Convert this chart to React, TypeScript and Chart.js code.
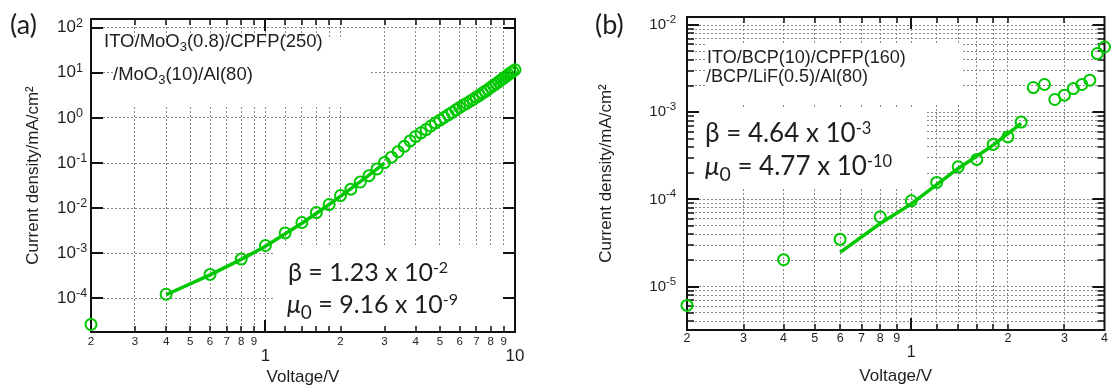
import React, { useEffect, useRef } from 'react';
import { Chart, registerables } from 'chart.js';

Chart.register(...registerables);

const GREEN = '#00c800';
const INK = '#1e1e1e';
const GRID = '#8a8a8a';
const ARIAL = '"Liberation Sans", Arial, sans-serif';
const CAL = 'Lato, "Open Sans", sans-serif';

// ---------------- panel (a) data ----------------
const voltageA = [
  0.2, 0.4, 0.6, 0.8, 1.0, 1.2, 1.4, 1.6, 1.8, 2.0,
  2.2, 2.4, 2.6, 2.8, 3.0, 3.2, 3.4, 3.6, 3.8, 4.0,
  4.2, 4.4, 4.6, 4.8, 5.0, 5.2, 5.4, 5.6, 5.8, 6.0,
  6.2, 6.4, 6.6, 6.8, 7.0, 7.2, 7.4, 7.6, 7.8, 8.0,
  8.2, 8.4, 8.6, 8.8, 9.0, 9.2, 9.4, 9.6, 9.8, 10.0,
];
const currentA = [
  2.63e-5, 1.23e-4, 3.39e-4, 7.41e-4, 1.48e-3, 2.82e-3, 4.79e-3, 7.94e-3, 1.2e-2, 1.9e-2,
  2.63e-2, 3.8e-2, 5.25e-2, 7.41e-2, 0.102, 0.135, 0.178, 0.234, 0.309, 0.389,
  0.468, 0.55, 0.661, 0.776, 0.891, 1.02, 1.17, 1.32, 1.51, 1.7,
  1.91, 2.09, 2.34, 2.57, 2.88, 3.16, 3.55, 3.89, 4.27, 4.79,
  5.25, 5.75, 6.31, 6.92, 7.59, 8.32, 9.12, 10.0, 10.7, 11.7,
];
const fitVoltageA = [0.4, 0.6, 0.8, 1.0, 1.4, 1.8, 2.2, 2.6, 3.0];
const fitCurrentA = [1.2e-4, 3.3e-4, 7.3e-4, 1.42e-3, 4.6e-3, 1.2e-2, 2.7e-2, 5.4e-2, 0.1];
const xTicksA = [0.2, 0.3, 0.4, 0.5, 0.6, 0.7, 0.8, 0.9, 1, 1.2, 1.4, 1.6, 1.8, 2, 3, 4, 5, 6, 7, 8, 9, 10];
const yTicksA = [1e-4, 1e-3, 1e-2, 1e-1, 1, 10, 100];

// ---------------- panel (b) data ----------------
const voltageB = [0.2, 0.4, 0.6, 0.8, 1.0, 1.2, 1.4, 1.6, 1.8, 2.0, 2.2, 2.4, 2.6, 2.8, 3.0, 3.2, 3.4, 3.6, 3.8, 4.0];
const currentB = [
  6.1e-6, 2.04e-5, 3.49e-5, 6.34e-5, 9.66e-5, 1.57e-4, 2.37e-4, 2.88e-4, 4.28e-4, 5.22e-4,
  7.71e-4, 1.92e-3, 2.08e-3, 1.4e-3, 1.57e-3, 1.87e-3, 2.08e-3, 2.33e-3, 4.71e-3, 5.6e-3,
];
const fitVoltageB = [0.6, 0.8, 1.0, 1.4, 1.8, 2.2];
const fitCurrentB = [2.48e-5, 5.3e-5, 8.9e-5, 2.27e-4, 4.2e-4, 7.45e-4];
const xTicksB = [0.2, 0.3, 0.4, 0.5, 0.6, 0.7, 0.8, 0.9, 1, 1.2, 1.4, 1.6, 1.8, 2, 3, 4];
const yTicksB = [
  4e-6, 5e-6, 6e-6, 7e-6, 8e-6, 9e-6,
  1e-5, 2e-5, 3e-5, 4e-5, 5e-5, 6e-5, 7e-5, 8e-5, 9e-5,
  1e-4, 2e-4, 3e-4, 4e-4, 5e-4, 6e-4, 7e-4, 8e-4, 9e-4,
  1e-3, 2e-3, 3e-3, 4e-3, 5e-3, 6e-3, 7e-3, 8e-3, 9e-3,
  1e-2,
];

// ---------------- helpers ----------------
const isDecade = (v: number) => {
  const l = Math.log10(v);
  return Math.abs(l - Math.round(l)) < 1e-6;
};
const exponentOf = (v: number) => String(Math.round(Math.log10(v)));
const mantissa = (v: number) => Math.round(v / Math.pow(10, Math.floor(Math.log10(v) + 1e-9)));

type Run = { t: string; f: string; dy?: number };
type TLine = { x: number; y: number; runs: Run[] };
type Box = { x: number; y: number; w: number; h: number };

type PanelCfg = {
  offsetX: number;
  area: { left: number; right: number; top: number; bottom: number };
  xMin: number; xMax: number; yMin: number; yMax: number;
  vx: number[]; vy: number[]; fx: number[]; fy: number[];
  xTicks: number[]; yTicks: number[];
  majorX: number[];
  xMinorSize: number; xMajorSize: number; xMajorLH: number; xPad: number;
  ySize: number; yPad: number; expSize: number; expDy: number;
  yMinorTicks: boolean;
  yTitlePad: number; xTitlePad: number;
  boxes: Box[];
  lines: TLine[];
};

const W = 556;
const H = 387;

function buildConfig(p: PanelCfg): any {
  const ox = p.offsetX;
  const decor = {
    id: 'decor',
    beforeDatasetsDraw(chart: any) {
      const ctx = chart.ctx as CanvasRenderingContext2D;
      const { left, right, top, bottom } = chart.chartArea;
      const xs = chart.scales.x;
      const ys = chart.scales.y;
      ctx.save();
      ctx.fillStyle = '#ffffff';
      p.boxes.forEach((b) => ctx.fillRect(b.x - ox, b.y, b.w, b.h));
      ctx.strokeStyle = '#111';
      ctx.lineCap = 'butt';
      p.xTicks.forEach((v) => {
        const px = Math.round(xs.getPixelForValue(v));
        if (px <= left + 1 || px >= right - 1) return;
        const major = p.majorX.includes(v);
        const len = major ? 12 : 6;
        ctx.lineWidth = major ? 2 : 1.5;
        ctx.beginPath();
        ctx.moveTo(px, bottom);
        ctx.lineTo(px, bottom - len);
        ctx.moveTo(px, top);
        ctx.lineTo(px, top + len);
        ctx.stroke();
      });
      p.yTicks.forEach((v) => {
        const py = Math.round(ys.getPixelForValue(v));
        if (py <= top + 1 || py >= bottom - 1) return;
        const major = isDecade(v);
        if (!major && !p.yMinorTicks) return;
        const len = major ? 12 : 7;
        ctx.lineWidth = major ? 2 : 1.5;
        ctx.beginPath();
        ctx.moveTo(left, py);
        ctx.lineTo(left + len, py);
        ctx.moveTo(right, py);
        ctx.lineTo(right - len, py);
        ctx.stroke();
      });
      ctx.lineWidth = 2;
      ctx.strokeRect(left, top, right - left, bottom - top);
      ctx.restore();
    },
    afterDatasetsDraw(chart: any) {
      const ctx = chart.ctx as CanvasRenderingContext2D;
      const ys = chart.scales.y;
      ctx.save();
      ctx.fillStyle = INK;
      ctx.textAlign = 'left';
      ctx.textBaseline = 'alphabetic';
      // exponents of the y tick labels (superscripts after "10")
      ctx.font = `${p.expSize}px ${ARIAL}`;
      const ex = p.area.left - p.yPad;
      p.yTicks.forEach((v) => {
        if (!isDecade(v)) return;
        const py = ys.getPixelForValue(v);
        ctx.fillText(exponentOf(v), ex, py + p.expDy);
      });
      p.lines.forEach((l) => {
        let x = l.x - ox;
        l.runs.forEach((r) => {
          ctx.font = r.f;
          ctx.fillText(r.t, x, l.y + (r.dy || 0));
          x += ctx.measureText(r.t).width;
        });
      });
      ctx.restore();
    },
  };

  const pts = p.vx.map((x, i) => ({ x, y: p.vy[i] }));
  const fit = p.fx.map((x, i) => ({ x, y: p.fy[i] }));

  return {
    type: 'scatter',
    data: {
      datasets: [
        {
          data: pts,
          showLine: false,
          pointStyle: 'circle',
          pointRadius: 5.5,
          pointBorderWidth: 2,
          borderWidth: 2,
          borderColor: GREEN,
          pointBorderColor: GREEN,
          backgroundColor: 'rgba(0,0,0,0)',
          pointBackgroundColor: 'rgba(0,0,0,0)',
          clip: false,
        },
        {
          data: fit,
          showLine: true,
          pointRadius: 0,
          borderColor: GREEN,
          borderWidth: 3.5,
          tension: 0,
          fill: false,
        },
      ],
    },
    options: {
      responsive: false,
      animation: false,
      devicePixelRatio: 1,
      events: [],
      layout: { padding: { left: 0, top: p.area.top, right: W - p.area.right, bottom: 0 } },
      plugins: { legend: { display: false }, tooltip: { enabled: false }, title: { display: false } },
      scales: {
        x: {
          type: 'logarithmic',
          position: 'bottom',
          min: p.xMin,
          max: p.xMax,
          afterBuildTicks: (s: any) => {
            s.ticks = p.xTicks.map((v) => ({ value: v }));
          },
          afterFit: (s: any) => {
            s.height = H - p.area.bottom;
            s.paddingLeft = 0;
            s.paddingRight = 0;
          },
          ticks: {
            autoSkip: false,
            maxRotation: 0,
            minRotation: 0,
            padding: p.xPad,
            color: INK,
            callback: (value: any) => {
              const v = Number(value);
              if (p.majorX.includes(v)) return ['', String(v)];
              if (v > 1 && v < 2) return '';
              return String(mantissa(v));
            },
            font: (c: any) => {
              const v = c && c.tick ? c.tick.value : 0;
              return p.majorX.includes(v)
                ? { family: ARIAL, size: p.xMajorSize, lineHeight: p.xMajorLH }
                : { family: ARIAL, size: p.xMinorSize, lineHeight: 1.2 };
            },
          },
          grid: { color: GRID, lineWidth: 1, drawTicks: false },
          border: { display: false, dash: [2, 2] },
          title: {
            display: true,
            text: 'Voltage/V',
            color: INK,
            font: { family: ARIAL, size: 17, lineHeight: 1 },
            padding: { top: 0, bottom: p.xTitlePad },
          },
        },
        y: {
          type: 'logarithmic',
          position: 'left',
          min: p.yMin,
          max: p.yMax,
          afterBuildTicks: (s: any) => {
            s.ticks = p.yTicks.map((v) => ({ value: v }));
          },
          afterFit: (s: any) => {
            s.width = p.area.left;
            s.paddingTop = 0;
            s.paddingBottom = 0;
          },
          ticks: {
            autoSkip: false,
            padding: p.yPad,
            color: INK,
            font: { family: ARIAL, size: p.ySize },
            callback: (value: any) => (isDecade(Number(value)) ? '10' : ''),
          },
          grid: { color: GRID, lineWidth: 1, drawTicks: false },
          border: { display: false, dash: [2, 2] },
          title: {
            display: true,
            text: 'Current density/mA/cm\u00B2',
            color: INK,
            font: { family: ARIAL, size: 17, lineHeight: 1 },
            padding: { top: p.yTitlePad, bottom: 0 },
          },
        },
      },
    },
    plugins: [decor],
  };
}

const F = (size: number, fam = ARIAL, style = '') => `${style}${size}px ${fam}`;

const panelA: PanelCfg = {
  offsetX: 0,
  area: { left: 91, right: 515, top: 19, bottom: 332 },
  xMin: 0.2, xMax: 10, yMin: 1.79e-5, yMax: 156,
  vx: voltageA, vy: currentA, fx: fitVoltageA, fy: fitCurrentA,
  xTicks: xTicksA, yTicks: yTicksA,
  majorX: [1, 10],
  xMinorSize: 11.5, xMajorSize: 17, xMajorLH: 0.82, xPad: 3,
  ySize: 17, yPad: 15, expSize: 12.5, expDy: -1,
  yMinorTicks: false,
  yTitlePad: 25, xTitlePad: 1,
  boxes: [
    { x: 102, y: 37, w: 268, h: 25 },
    { x: 113, y: 62, w: 257, h: 45 },
    { x: 275, y: 245, w: 240, h: 87 },
  ],
  lines: [
    { x: 10, y: 34, runs: [{ t: '(a)', f: F(27, CAL) }] },
    {
      x: 104, y: 46.5,
      runs: [
        { t: 'ITO/MoO', f: F(18.5) },
        { t: '3', f: F(13), dy: 4 },
        { t: '(0.8)/CPFP(250)', f: F(18.5) },
      ],
    },
    {
      x: 113, y: 80,
      runs: [
        { t: '/MoO', f: F(18.5) },
        { t: '3', f: F(13), dy: 4 },
        { t: '(10)/Al(80)', f: F(18.5) },
      ],
    },
    {
      x: 288, y: 281,
      runs: [
        { t: '\u03B2 = 1.23 x 10', f: F(25, CAL) },
        { t: '-2', f: F(16, CAL), dy: -8 },
      ],
    },
    {
      x: 287, y: 313,
      runs: [
        { t: '\u03BC', f: F(25, CAL, 'italic ') },
        { t: '0', f: F(19, CAL), dy: 6 },
        { t: ' = 9.16 x 10', f: F(25, CAL) },
        { t: '-9', f: F(16, CAL), dy: -8 },
      ],
    },
  ],
};

const panelB: PanelCfg = {
  offsetX: 556,
  area: { left: 131, right: 555, top: 17, bottom: 330 },
  xMin: 0.2, xMax: 4, yMin: 3.19e-6, yMax: 1.236e-2,
  vx: voltageB, vy: currentB, fx: fitVoltageB, fy: fitCurrentB,
  xTicks: xTicksB, yTicks: yTicksB,
  majorX: [1],
  xMinorSize: 12.5, xMajorSize: 16, xMajorLH: 0.89, xPad: 1.5,
  ySize: 15, yPad: 21, expSize: 11.5, expDy: -2,
  yMinorTicks: true,
  yTitlePad: 42, xTitlePad: 2,
  boxes: [
    { x: 707, y: 43, w: 256, h: 62 },
    { x: 687, y: 108, w: 240, h: 80 },
  ],
  lines: [
    { x: 595, y: 34, runs: [{ t: '(b)', f: F(27, CAL) }] },
    { x: 707, y: 63, runs: [{ t: 'ITO/BCP(10)/CPFP(160)', f: F(18) }] },
    { x: 706, y: 82, runs: [{ t: '/BCP/LiF(0.5)/Al(80)', f: F(18) }] },
    {
      x: 705, y: 142,
      runs: [
        { t: '\u03B2 = 4.64 x 10', f: F(26, CAL) },
        { t: '-3', f: F(16.5, CAL), dy: -8 },
      ],
    },
    {
      x: 705, y: 175,
      runs: [
        { t: '\u03BC', f: F(26, CAL, 'italic ') },
        { t: '0', f: F(19.5, CAL), dy: 6 },
        { t: ' = 4.77 x 10', f: F(26, CAL) },
        { t: '-10', f: F(16.5, CAL), dy: -8 },
      ],
    },
  ],
};

function Panel({ cfg }: { cfg: PanelCfg }) {
  const ref = useRef<HTMLCanvasElement | null>(null);
  useEffect(() => {
    if (!ref.current) return;
    const chart = new Chart(ref.current, buildConfig(cfg));
    return () => chart.destroy();
  }, [cfg]);
  return (
    <canvas
      ref={ref}
      width={W}
      height={H}
      style={{ position: 'absolute', left: cfg.offsetX, top: 0, width: W, height: H }}
    />
  );
}

export default function App() {
  return (
    <div style={{ position: 'absolute', left: 0, top: 0, width: 1112, height: 387, background: '#fff', overflow: 'hidden' }}>
      <Panel cfg={panelA} />
      <Panel cfg={panelB} />
    </div>
  );
}
